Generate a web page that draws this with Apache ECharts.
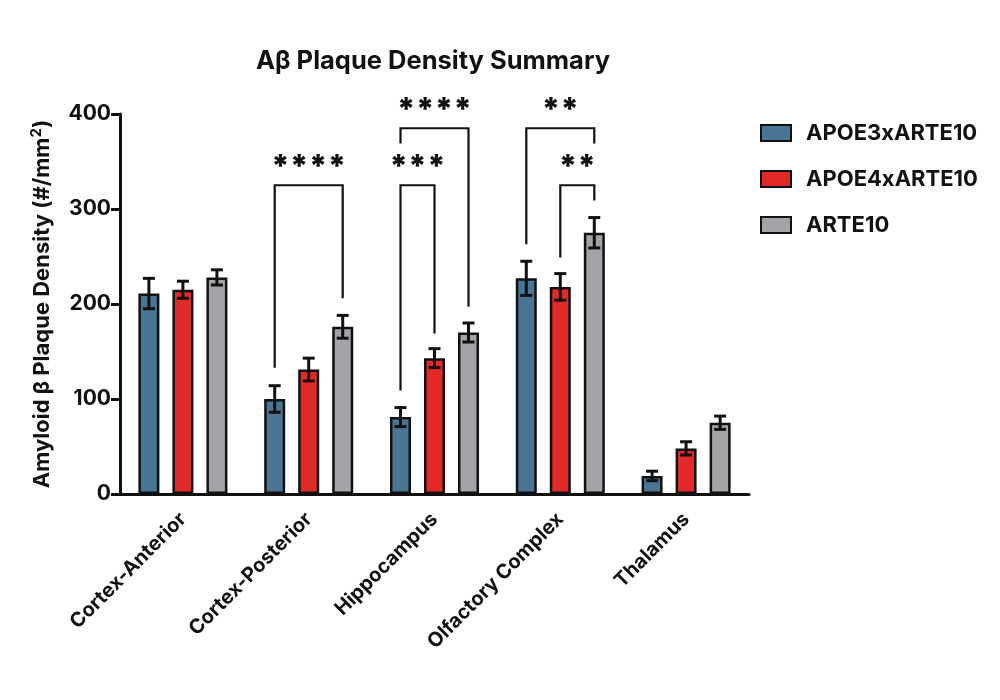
<!DOCTYPE html>
<html lang="en">

<head>
    <meta charset="UTF-8">
    <title>Aβ Plaque Density Summary</title>
    <script src="https://cdn.jsdelivr.net/npm/echarts@6/dist/echarts.min.js"></script>
    <style>
        body { margin: 0; background: #fff; }
        #main { width: 1000px; height: 700px; }
    </style>
</head>

<body>
    <div id="main"></div>

    <script type="text/javascript">
        var regions = ['Cortex-Anterior', 'Cortex-Posterior', 'Hippocampus', 'Olfactory Complex', 'Thalamus'];
        var groupNames = ['APOE3xARTE10', 'APOE4xARTE10', 'ARTE10'];
        var groupColors = ['#4a7594', '#e22a2a', '#a3a3a8'];

        // mean values per group
        var apoe3Mean = [211, 100, 81, 227, 19];
        var apoe4Mean = [215, 131, 143, 218, 48];
        var arte10Mean = [228, 176, 170, 275, 75];
        // error (SEM) per group
        var apoe3Err = [16, 14, 10, 18, 5];
        var apoe4Err = [9, 12, 10, 14, 7];
        var arte10Err = [8, 12, 10, 16, 7];

        var yTicks = [0, 100, 200, 300, 400];

        // significance brackets: region index, from group, to group, top, left leg end, right leg end
        var bracketRegion = [1, 2, 2, 3, 3];
        var bracketFrom = [0, 0, 0, 0, 1];
        var bracketTo = [2, 1, 2, 2, 2];
        var bracketTop = [325, 325, 385, 385, 325];
        var bracketLeftEnd = [133, 109, 369, 263, 249];
        var bracketRightEnd = [206, 169, 197, 369, 309];
        var bracketStars = ['****', '***', '****', '**', '**'];

        var means = [apoe3Mean, apoe4Mean, arte10Mean];
        var errs = [apoe3Err, apoe4Err, arte10Err];

        var BAR_W = 21;
        var BAR_STEP = 34; // centre distance between neighbouring bars
        var FONT = 'Inter, "Liberation Sans", Arial, sans-serif';

        var myChart = echarts.init(document.getElementById('main'));

        var series = [];
        groupNames.forEach(function (name, g) {
            series.push({
                name: name,
                type: 'bar',
                barWidth: BAR_W,
                barGap: '62%',
                itemStyle: {
                    color: groupColors[g],
                    borderColor: '#111',
                    borderWidth: 2.5
                },
                data: means[g],
                z: 2
            });
        });

        // error bars
        groupNames.forEach(function (name, g) {
            series.push({
                type: 'custom',
                z: 5,
                data: means[g].map(function (m, i) { return [i, m, errs[g][i]]; }),
                renderItem: function (params, api) {
                    var off = (g - 1) * BAR_STEP;
                    var top = api.coord([api.value(0), api.value(1) + api.value(2)]);
                    var bot = api.coord([api.value(0), api.value(1) - api.value(2)]);
                    var x = top[0] + off;
                    var cap = 6;
                    var st = { stroke: '#111', lineWidth: 3 };
                    return {
                        type: 'group',
                        children: [
                            { type: 'line', shape: { x1: x, y1: top[1], x2: x, y2: bot[1] }, style: st },
                            { type: 'line', shape: { x1: x - cap, y1: top[1], x2: x + cap, y2: top[1] }, style: st },
                            { type: 'line', shape: { x1: x - cap, y1: bot[1], x2: x + cap, y2: bot[1] }, style: st }
                        ]
                    };
                }
            });
        });

        // significance brackets
        series.push({
            type: 'custom',
            z: 6,
            data: bracketRegion.map(function (r, i) {
                return [r, bracketFrom[i], bracketTo[i], bracketTop[i], bracketLeftEnd[i], bracketRightEnd[i]];
            }),
            renderItem: function (params, api) {
                var r = api.value(0);
                var x1 = api.coord([r, 0])[0] + (api.value(1) - 1) * BAR_STEP;
                var x2 = api.coord([r, 0])[0] + (api.value(2) - 1) * BAR_STEP;
                var yTop = api.coord([r, api.value(3)])[1];
                var yL = api.coord([r, api.value(4)])[1];
                var yR = api.coord([r, api.value(5)])[1];
                return {
                    type: 'group',
                    children: [
                        {
                            type: 'polyline',
                            shape: { points: [[x1, yL], [x1, yTop], [x2, yTop], [x2, yR]] },
                            style: { stroke: '#111', lineWidth: 2.2, fill: null }
                        },
                        {
                            type: 'text',
                            style: {
                                x: (x1 + x2) / 2,
                                y: yTop - 2,
                                text: bracketStars[params.dataIndex],
                                textAlign: 'center',
                                textVerticalAlign: 'bottom',
                                font: '900 31px ' + FONT,
                                fill: '#111'
                            }
                        }
                    ]
                };
            }
        });

        var option = {
            animation: false,
            backgroundColor: '#fff',
            title: {
                text: 'Aβ Plaque Density Summary',
                left: 251,
                top: 43,
                textStyle: {
                    fontFamily: FONT,
                    fontWeight: 'bold',
                    fontSize: 25.5,
                    color: '#111'
                }
            },
            legend: {
                data: groupNames,
                orient: 'vertical',
                left: 755,
                top: 117,
                itemWidth: 30,
                itemHeight: 16,
                itemGap: 24,
                icon: 'rect',
                textStyle: {
                    fontFamily: FONT,
                    fontWeight: 'bold',
                    fontSize: 22,
                    color: '#111',
                    padding: [0, 0, 0, 10]
                }
            },
            grid: {
                left: 120,
                right: 251,
                top: 114,
                bottom: 206
            },
            xAxis: {
                type: 'category',
                data: regions,
                axisLine: { lineStyle: { color: '#111', width: 3 } },
                axisTick: { alignWithLabel: true, length: 9, lineStyle: { color: '#111', width: 3 } },
                axisLabel: {
                    interval: 0,
                    rotate: 45,
                    margin: 22,
                    fontFamily: FONT,
                    fontWeight: 'bold',
                    fontSize: 20,
                    color: '#111'
                }
            },
            yAxis: {
                type: 'value',
                min: yTicks[0],
                max: yTicks[yTicks.length - 1],
                interval: 100,
                name: 'Amyloid β Plaque Density (#/mm{sup|2})',
                nameLocation: 'middle',
                nameRotate: 90,
                nameGap: 64,
                nameTextStyle: {
                    fontFamily: FONT,
                    fontWeight: 'bold',
                    fontSize: 22,
                    color: '#111',
                    rich: {
                        sup: {
                            fontFamily: FONT,
                            fontWeight: 'bold',
                            fontSize: 15,
                            color: '#111',
                            verticalAlign: 'bottom',
                            padding: [0, 0, 12, 0]
                        }
                    }
                },
                splitLine: { show: false },
                axisLine: { show: true, lineStyle: { color: '#111', width: 3 } },
                axisTick: { show: true, length: 9, lineStyle: { color: '#111', width: 3 } },
                axisLabel: {
                    margin: 9,
                    fontFamily: FONT,
                    fontWeight: 'bold',
                    fontSize: 21,
                    color: '#111'
                }
            },
            series: series
        };

        myChart.setOption(option);
        window.onresize = myChart.resize;
    </script>
</body>

</html>
